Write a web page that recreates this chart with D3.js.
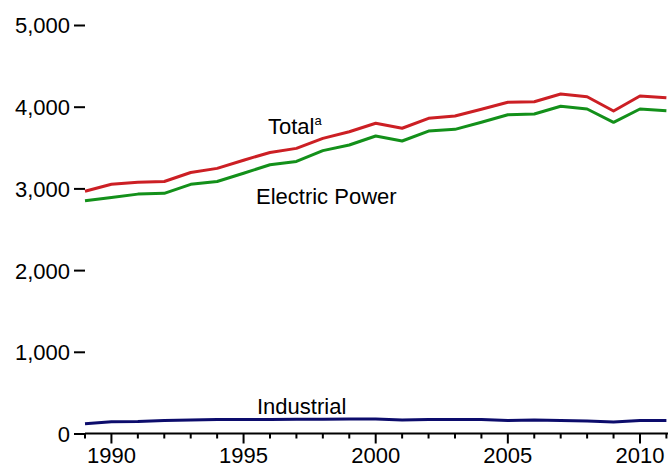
<!DOCTYPE html>
<html>
<head>
<meta charset="utf-8">
<script src="https://cdn.jsdelivr.net/npm/d3@7"></script>
<style>
  body { margin: 0; background: #fff; }
  text { font-family: "Liberation Sans", Arial, sans-serif; fill: #000; }
</style>
</head>
<body>
<div id="chart"></div>
<script>
// values
var years = d3.range(1989, 2012);
var total = [2965, 3050, 3075, 3085, 3195, 3245, 3345, 3440, 3490, 3612, 3694, 3797,
             3736, 3858, 3886, 3968, 4054, 4061, 4155, 4122, 3947, 4131, 4110];
var electric = [2850, 2890, 2930, 2940, 3050, 3085, 3185, 3290, 3330, 3462, 3531, 3641,
                3580, 3702, 3723, 3809, 3902, 3911, 4005, 3972, 3809, 3972, 3951];
var industrial = [120, 145, 148, 160, 165, 170, 170, 172, 175, 175, 176, 178,
                  165, 170, 172, 172, 158, 165, 158, 152, 140, 158, 158];
var yTicks = [0, 1000, 2000, 3000, 4000, 5000];
var xLabels = [1990, 1995, 2000, 2005, 2010];

var width = 668, height = 470;
var x0 = 85, x1 = 666.4, yTop = 25, yBot = 433.5;

var svg = d3.select("div#chart")
    .append("svg")
    .attr("width", width)
    .attr("height", height);

var x = d3.scaleLinear().domain([1989, 2011]).range([x0, x1]);
var y = d3.scaleLinear().domain([0, 5000]).range([yBot, yTop]);

// y axis: ticks only, no spine
svg.append("g")
    .attr("transform", "translate(" + x0 + ",0)")
    .call(d3.axisLeft(y).tickValues(yTicks).tickSize(11).tickPadding(4)
          .tickFormat(d3.format(",")))
    .call(g => g.select(".domain").remove())
    .call(g => g.selectAll("line").attr("stroke", "#000").attr("stroke-width", 2))
    .call(g => g.selectAll("text").attr("font-size", 22).attr("dy", "0.36em"));

// x axis: minor ticks every year, longer every 5
var xg = svg.append("g").attr("transform", "translate(0," + yBot + ")");
xg.append("line")
    .attr("x1", x0).attr("x2", width)
    .attr("stroke", "#000").attr("stroke-width", 2);
xg.selectAll("line.tk")
    .data(years)
    .enter()
    .append("line")
    .attr("class", "tk")
    .attr("x1", (d) => x(d)).attr("x2", (d) => x(d))
    .attr("y1", 0)
    .attr("y2", (d) => d % 5 == 0 ? 10 : 5)
    .attr("stroke", "#000").attr("stroke-width", 2);
xg.selectAll("text")
    .data(xLabels)
    .enter()
    .append("text")
    .attr("x", (d) => x(d))
    .attr("y", 29)
    .attr("text-anchor", "middle")
    .attr("font-size", 22)
    .text((d) => d);

var line = d3.line()
    .x((d, i) => x(years[i]))
    .y((d) => y(d));

var series = [
  {vals: industrial, color: "#0c0c6c"},
  {vals: electric, color: "#13901a"},
  {vals: total, color: "#cc1f24"}
];

svg.selectAll("path.series")
    .data(series)
    .enter()
    .append("path")
    .attr("class", "series")
    .attr("d", (d) => line(d.vals))
    .attr("fill", "none")
    .attr("stroke", (d) => d.color)
    .attr("stroke-width", 3)
    .attr("stroke-linejoin", "round");

// labels
var tl = svg.append("text").attr("x", 268).attr("y", 134).attr("font-size", 22);
tl.append("tspan").text("Total");
tl.append("tspan").attr("font-size", 13).attr("dy", -9).text("a");

svg.append("text").attr("x", 256).attr("y", 204).attr("font-size", 22).text("Electric Power");
svg.append("text").attr("x", 257).attr("y", 414).attr("font-size", 22).text("Industrial");
</script>
</body>
</html>
